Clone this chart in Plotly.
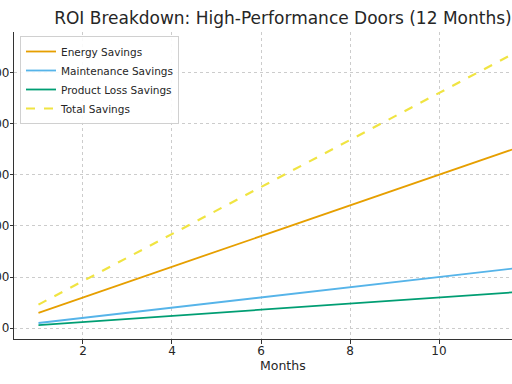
import plotly.graph_objects as go

months = list(range(1, 13))
energy = [300, 600, 900, 1200, 1500, 1800, 2100, 2400, 2700, 3000, 3300, 3600]
maintenance = [100, 200, 300, 400, 500, 600, 700, 800, 900, 1000, 1100, 1200]
product_loss = [60, 120, 180, 240, 300, 360, 420, 480, 540, 600, 660, 720]
total = [e + m + p for e, m, p in zip(energy, maintenance, product_loss)]

font = "DejaVu Sans"
fig = go.Figure()
fig.add_trace(go.Scatter(x=months, y=energy, mode="lines", name="Energy Savings",
                         line=dict(color="#E69F00", width=1.8)))
fig.add_trace(go.Scatter(x=months, y=maintenance, mode="lines", name="Maintenance Savings",
                         line=dict(color="#56B4E9", width=1.8)))
fig.add_trace(go.Scatter(x=months, y=product_loss, mode="lines", name="Product Loss Savings",
                         line=dict(color="#009E73", width=1.8)))
fig.add_trace(go.Scatter(x=months, y=total, mode="lines", name="Total Savings",
                         line=dict(color="#F0E442", width=2.2, dash="dash")))

fig.update_layout(
    template="none",
    width=512, height=384,
    margin=dict(l=14, r=0, t=32, b=45, autoexpand=False),
    paper_bgcolor="white", plot_bgcolor="white",
    font=dict(family=font, size=11, color="#262626"),
    title=dict(text="ROI Breakdown: High-Performance Doors (12 Months)",
               font=dict(size=17, family=font, color="#262626"),
               xref="paper", x=0.54, xanchor="center",
               yref="container", y=1 - 18 / 384, yanchor="middle"),
    xaxis=dict(range=[0.45, 11.64], tickvals=[2, 4, 6, 8, 10], automargin=False,
               showline=True, linecolor="#333333", linewidth=1.3,
               ticks="outside", ticklen=4, tickcolor="#333333",
               showgrid=True, gridcolor="#cccccc", griddash="dot", gridwidth=1,
               zeroline=False, tickfont=dict(size=12), ticklabelstandoff=-4),
    yaxis=dict(range=[-213, 5793], tickvals=[0, 1000, 2000, 3000, 4000, 5000], automargin=False,
               showline=True, linecolor="#333333", linewidth=1.3,
               ticks="outside", ticklen=3, tickcolor="#333333",
               showgrid=True, gridcolor="#cccccc", griddash="dot", gridwidth=1,
               zeroline=False, tickfont=dict(size=12), ticklabelstandoff=-2),
    legend=dict(x=(20 - 14) / 498, y=(339 - 36) / 307, xanchor="left", yanchor="top",
                bgcolor="rgba(255,255,255,0.9)", bordercolor="#d0d0d0", borderwidth=1,
                font=dict(size=10.5), itemwidth=30, tracegroupgap=0),
    annotations=[dict(text="Months", xref="paper", yref="paper", x=0.54, y=-26 / 307,
                      xanchor="center", yanchor="middle", showarrow=False,
                      font=dict(size=12.5))],
)

fig.write_html("out.html", config={"displayModeBar": False},
               post_script="document.body.style.margin='0';")
